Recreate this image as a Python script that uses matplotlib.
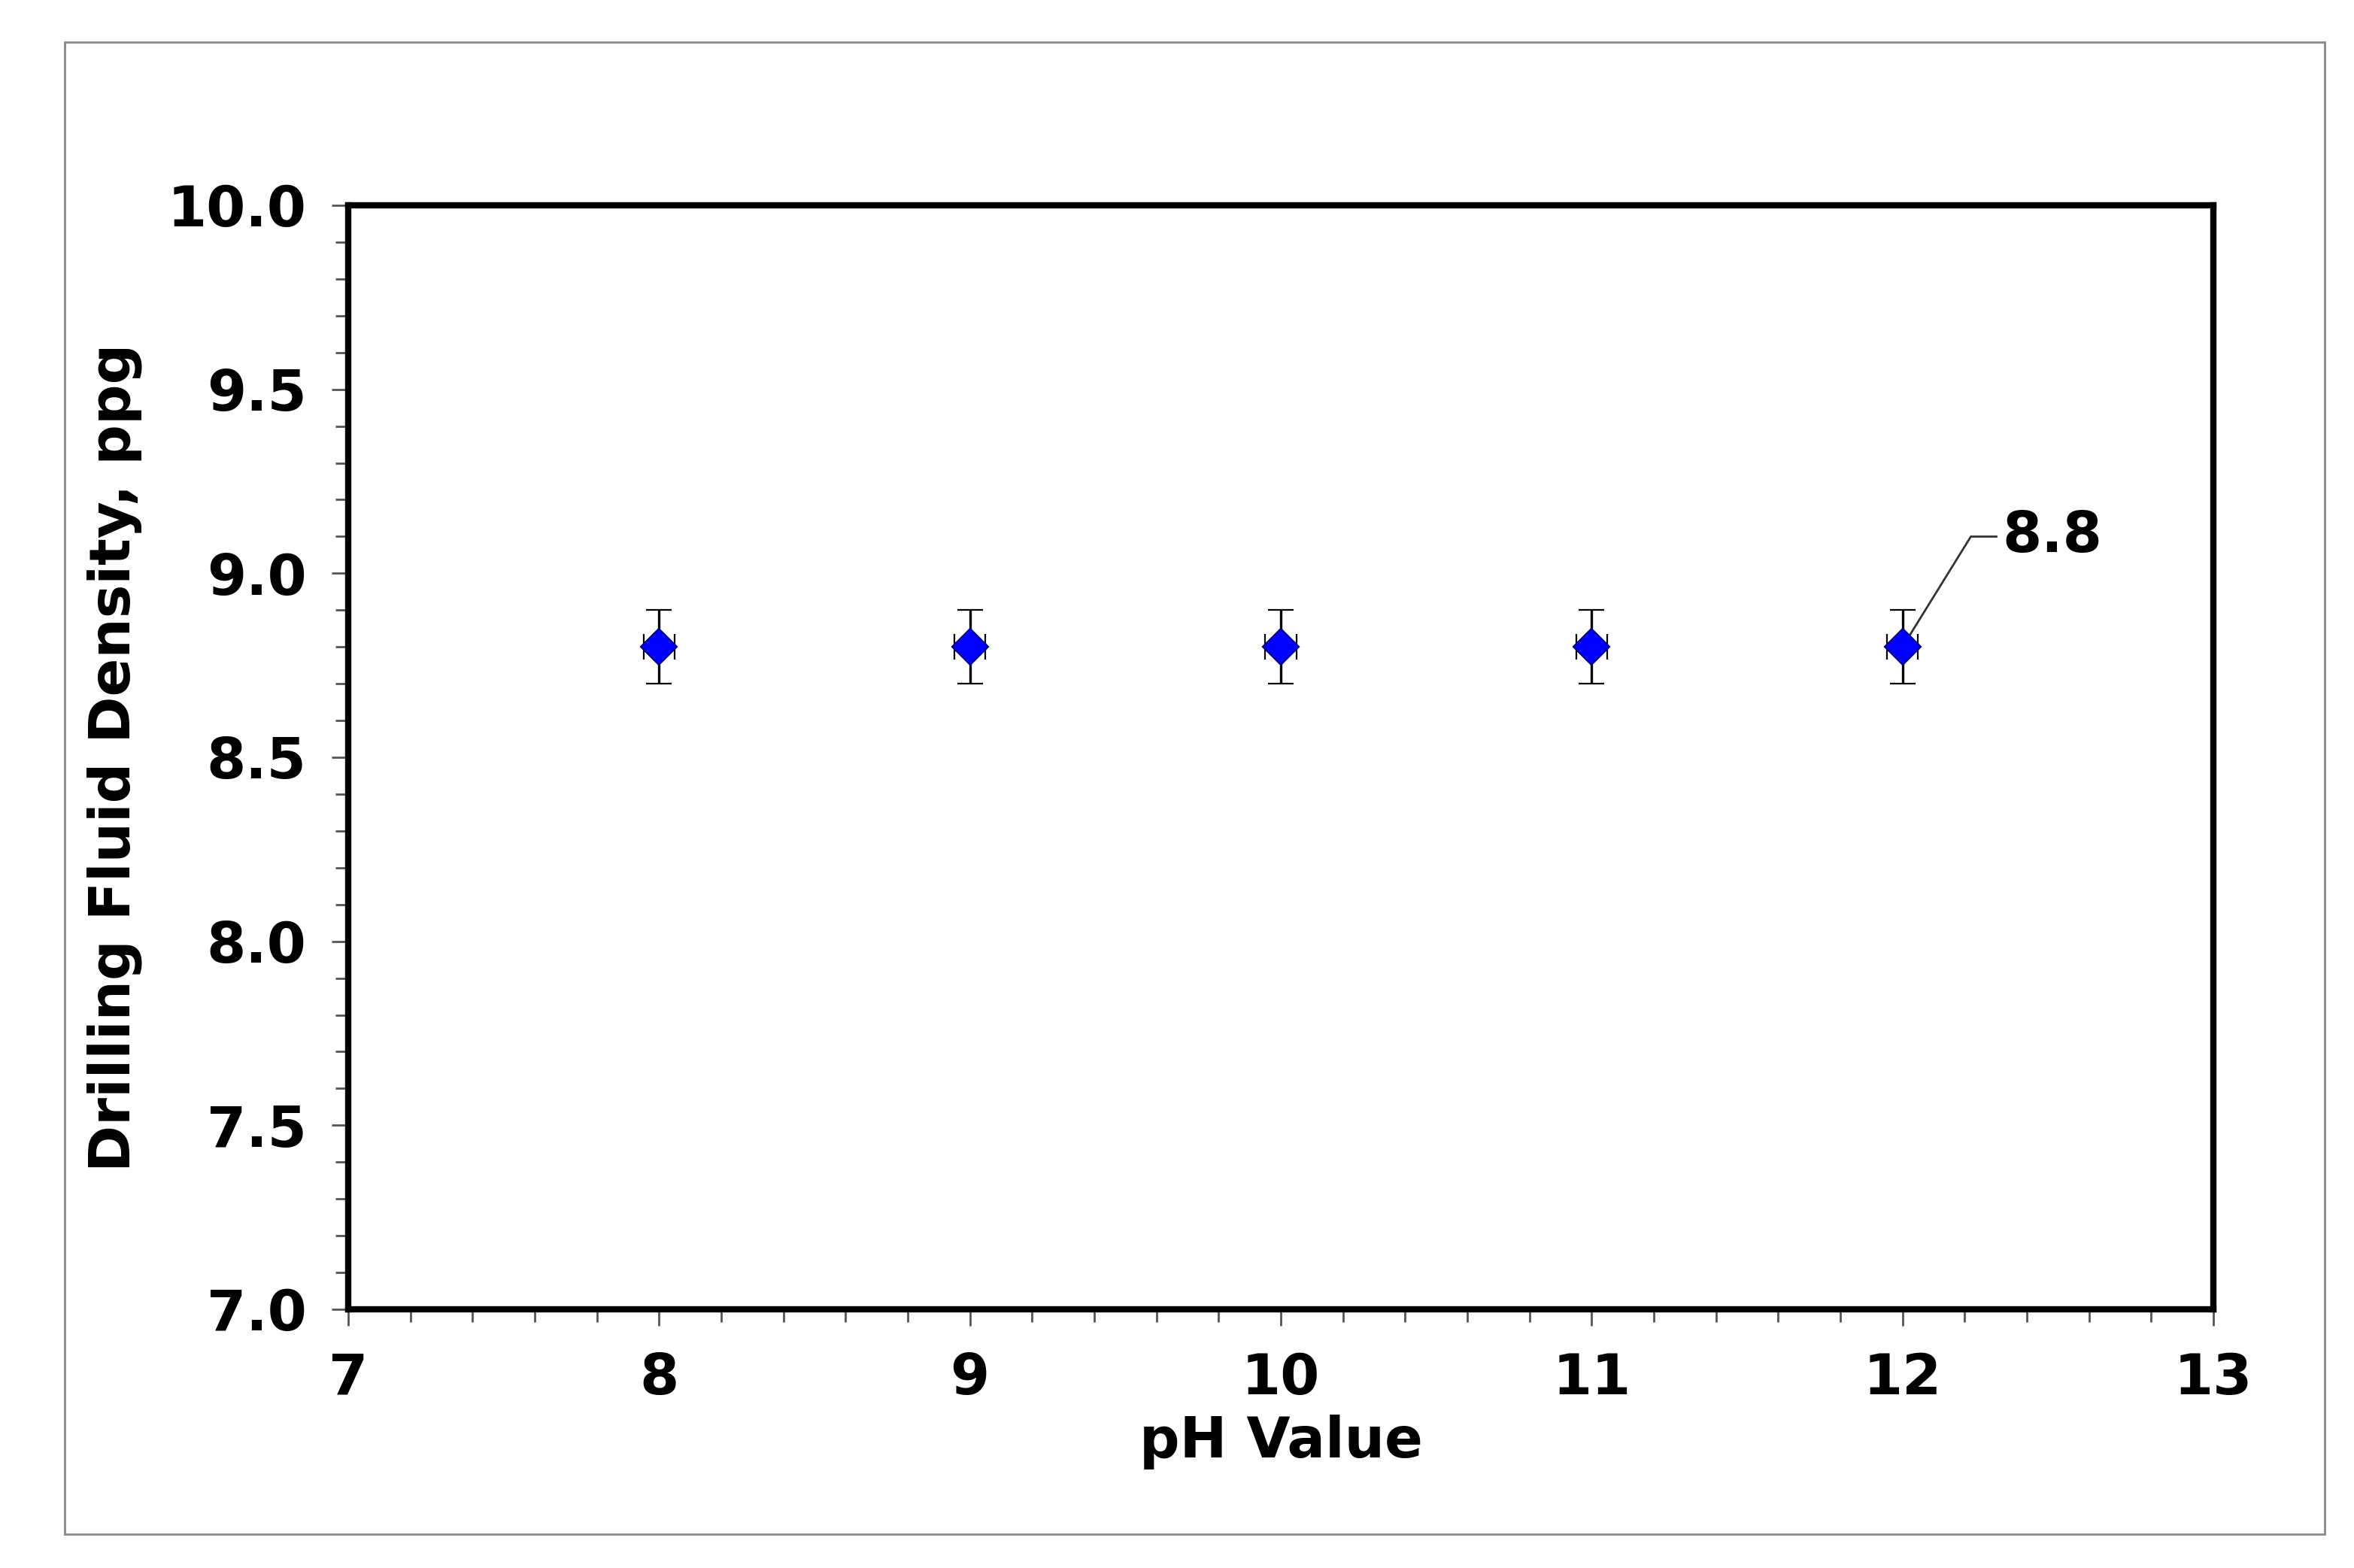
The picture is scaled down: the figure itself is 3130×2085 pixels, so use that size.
import matplotlib
matplotlib.use('Agg')
import matplotlib.pyplot as plt
from matplotlib.patches import Rectangle
from matplotlib.ticker import MultipleLocator

# Data
ph_values = [8, 9, 10, 11, 12]
density = [8.8, 8.8, 8.8, 8.8, 8.8]
y_err = [0.1, 0.1, 0.1, 0.1, 0.1]
x_err = [0.05, 0.05, 0.05, 0.05, 0.05]

plt.rcParams['font.family'] = ['DejaVu Sans']
plt.rcParams['font.weight'] = 'bold'

fig = plt.figure(figsize=(15.65, 10.425), dpi=200)
ax = fig.add_axes([463 / 3130, 1 - 1741 / 2085, (2943 - 463) / 3130, (1741 - 273) / 2085])

# outer chart-area border
fig.patches.append(Rectangle((86 / 3130, 1 - 2040 / 2085), (3091 - 86) / 3130, (2040 - 56) / 2085,
                             transform=fig.transFigure, fill=False, edgecolor='#888888', linewidth=1))

ax.errorbar(ph_values, density, yerr=y_err, xerr=x_err, fmt='D', color='#0000FF',
            markersize=12, markeredgecolor='#00008B', markeredgewidth=0.8,
            ecolor='black', elinewidth=1.2, capsize=6, capthick=1.2, zorder=3)

ax.set_xlim(7, 13)
ax.set_ylim(7.0, 10.0)
ax.xaxis.set_major_locator(MultipleLocator(1))
ax.xaxis.set_minor_locator(MultipleLocator(0.2))
ax.yaxis.set_major_locator(MultipleLocator(0.5))
ax.yaxis.set_minor_locator(MultipleLocator(0.1))
ax.yaxis.set_major_formatter(matplotlib.ticker.FormatStrFormatter('%.1f'))
ax.tick_params(which='major', direction='out', length=8, width=1, color='#555555',
               labelsize=27, pad=12)
ax.tick_params(which='minor', direction='out', length=6, width=1, color='#555555')
for sp in ax.spines.values():
    sp.set_linewidth(3)

ax.set_xlabel('pH Value', fontsize=27, fontweight='bold', labelpad=4)
ax.set_ylabel('Drilling Fluid Density, ppg', fontsize=27, fontweight='bold', labelpad=12)

# data label with leader line (bent: diagonal then short horizontal)
lx, ly = ph_values[-1], density[-1]
bend_x, bend_y, end_x = lx + 0.22, ly + 0.3, lx + 0.3
ax.annotate('', xy=(lx, ly), xytext=(bend_x, bend_y),
            arrowprops=dict(arrowstyle='-', color='#333333', linewidth=1, shrinkA=0, shrinkB=4))
ax.plot([bend_x, end_x], [bend_y, bend_y], color='#333333', linewidth=1)
ax.text(end_x + 0.02, bend_y, f'{ly:.1f}', fontsize=27, fontweight='bold', va='center', ha='left')

fig.savefig('out.png', dpi=200)
